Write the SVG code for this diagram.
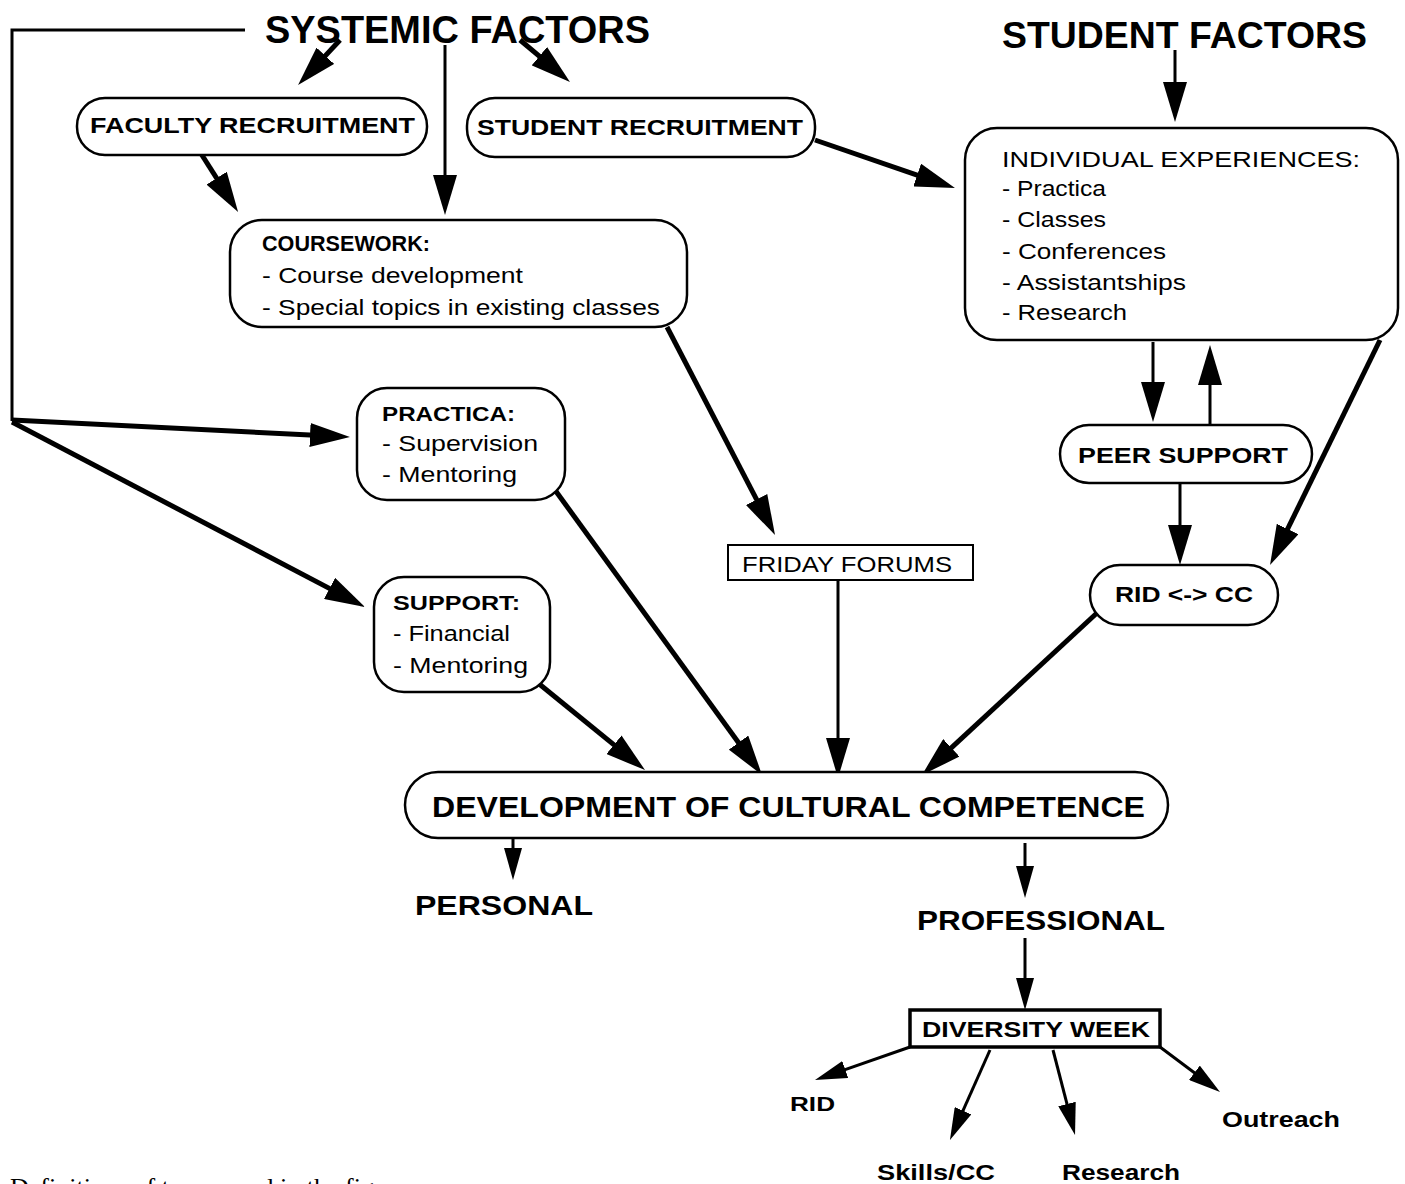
<svg xmlns="http://www.w3.org/2000/svg" width="1405" height="1184" viewBox="0 0 1405 1184">
<defs>
<style>
.bx{fill:#fff;stroke:#000;stroke-width:2.5}
.t{font-family:"Liberation Sans",Arial,sans-serif;fill:#000}
.b{font-weight:bold}
.ln{fill:none;stroke:#000;stroke-width:3}
.tk{fill:none;stroke:#000;stroke-width:5}
.a{marker-end:url(#ah)}
.s{marker-end:url(#sh)}
</style>
<marker id="ah" markerUnits="userSpaceOnUse" markerWidth="42" markerHeight="24" refX="10" refY="12" orient="auto"><path d="M0,0 L40,12 L0,24 z" fill="#000"/></marker>
<marker id="sh" markerUnits="userSpaceOnUse" markerWidth="34" markerHeight="18" refX="10" refY="9" orient="auto"><path d="M0,0 L32,9 L0,18 z" fill="#000"/></marker>
</defs>
<rect width="1405" height="1184" fill="#fff"/>
<g id="connectors">
<path class="ln" d="M245,30 H12 V421"/>
<path class="tk a" d="M340,40 L318.5,63.1"/>
<path class="ln a" d="M445,45 L445,185"/>
<path class="tk a" d="M520,40 L547,62.7"/>
<path class="tk a" d="M200,152 L222,186.6"/>
<path class="tk a" d="M815,140 L926.6,178.3"/>
<path class="ln a" d="M1175,50 L1175,92"/>
<path class="tk a" d="M667,327 L761.2,508.4"/>
<path class="ln a" d="M1153,342 L1153,392"/>
<path class="ln a" d="M1210,425 L1210,375"/>
<path class="ln a" d="M1180,483 L1180,535"/>
<path class="tk a" d="M1380,340 L1283.2,538"/>
<path class="ln a" d="M838,580 L838,748"/>
<path class="tk a" d="M12,420 L320,435.5"/>
<path class="tk a" d="M12,422 L338.4,593.1"/>
<path class="tk a" d="M555,490 L744.4,750.7"/>
<path class="tk a" d="M538,683 L621.7,751.1"/>
<path class="tk a" d="M1098,612 L944,754.6"/>
<path class="ln s" d="M513,838 L513,858"/>
<path class="ln s" d="M1025,843 L1025,876"/>
<path class="ln s" d="M1025,938 L1025,988"/>
<path class="ln s" d="M910,1047 L835.8,1072.8"/>
<path class="ln s" d="M990,1050 L958.9,1119.9"/>
<path class="ln s" d="M1053,1050 L1069.5,1113.7"/>
<path class="ln s" d="M1160,1047 L1202.4,1078.8"/>
</g>
<g id="systemic-factors"><text class="t b" x="265" y="43" font-size="38" textLength="385" lengthAdjust="spacingAndGlyphs">SYSTEMIC FACTORS</text></g>
<g id="student-factors"><text class="t b" x="1002" y="48" font-size="37" textLength="365" lengthAdjust="spacingAndGlyphs">STUDENT FACTORS</text></g>
<g id="faculty-recruitment"><rect class="bx" x="77" y="98" width="350" height="57" rx="28"/><text class="t b" x="90" y="133" font-size="22" textLength="325" lengthAdjust="spacingAndGlyphs">FACULTY RECRUITMENT</text></g>
<g id="student-recruitment"><rect class="bx" x="467" y="98" width="348" height="59" rx="28"/><text class="t b" x="477" y="135" font-size="22" textLength="326" lengthAdjust="spacingAndGlyphs">STUDENT RECRUITMENT</text></g>
<g id="coursework"><rect class="bx" x="230" y="220" width="457" height="107" rx="32"/>
<text class="t b" x="262" y="251" font-size="22" textLength="168" lengthAdjust="spacingAndGlyphs">COURSEWORK:</text>
<text class="t" x="262" y="283" font-size="22" textLength="261" lengthAdjust="spacingAndGlyphs">- Course development</text>
<text class="t" x="262" y="315" font-size="22" textLength="398" lengthAdjust="spacingAndGlyphs">- Special topics in existing classes</text></g>
<g id="individual-experiences"><rect class="bx" x="965" y="128" width="433" height="212" rx="32"/>
<text class="t" x="1002" y="167" font-size="22" textLength="358" lengthAdjust="spacingAndGlyphs">INDIVIDUAL EXPERIENCES:</text>
<text class="t" x="1002" y="196" font-size="22" textLength="104" lengthAdjust="spacingAndGlyphs">- Practica</text>
<text class="t" x="1002" y="227" font-size="22" textLength="104" lengthAdjust="spacingAndGlyphs">- Classes</text>
<text class="t" x="1002" y="259" font-size="22" textLength="164" lengthAdjust="spacingAndGlyphs">- Conferences</text>
<text class="t" x="1002" y="290" font-size="22" textLength="184" lengthAdjust="spacingAndGlyphs">- Assistantships</text>
<text class="t" x="1002" y="320" font-size="22" textLength="125" lengthAdjust="spacingAndGlyphs">- Research</text></g>
<g id="practica"><rect class="bx" x="357" y="388" width="208" height="112" rx="30"/>
<text class="t b" x="382" y="421" font-size="21" textLength="133" lengthAdjust="spacingAndGlyphs">PRACTICA:</text>
<text class="t" x="382" y="451" font-size="22" textLength="156" lengthAdjust="spacingAndGlyphs">- Supervision</text>
<text class="t" x="382" y="482" font-size="22" textLength="135" lengthAdjust="spacingAndGlyphs">- Mentoring</text></g>
<g id="support"><rect class="bx" x="374" y="577" width="176" height="115" rx="30"/>
<text class="t b" x="393" y="610" font-size="21" textLength="127" lengthAdjust="spacingAndGlyphs">SUPPORT:</text>
<text class="t" x="393" y="641" font-size="22" textLength="117" lengthAdjust="spacingAndGlyphs">- Financial</text>
<text class="t" x="393" y="673" font-size="22" textLength="135" lengthAdjust="spacingAndGlyphs">- Mentoring</text></g>
<g id="friday-forums"><rect x="728" y="545" width="245" height="35" fill="#fff" stroke="#000" stroke-width="2"/><text class="t" x="742" y="572" font-size="22" textLength="210" lengthAdjust="spacingAndGlyphs">FRIDAY FORUMS</text></g>
<g id="peer-support"><rect class="bx" x="1060" y="425" width="252" height="58" rx="29"/><text class="t b" x="1078" y="463" font-size="22" textLength="210" lengthAdjust="spacingAndGlyphs">PEER SUPPORT</text></g>
<g id="rid-cc"><rect class="bx" x="1090" y="565" width="188" height="60" rx="30"/><text class="t b" x="1115" y="602" font-size="22" textLength="138" lengthAdjust="spacingAndGlyphs">RID &lt;-&gt; CC</text></g>
<g id="development"><rect class="bx" x="405" y="772" width="763" height="66" rx="33"/><text class="t b" x="432" y="817" font-size="29" textLength="713" lengthAdjust="spacingAndGlyphs">DEVELOPMENT OF CULTURAL COMPETENCE</text></g>
<g id="personal"><text class="t b" x="415" y="915" font-size="28" textLength="178" lengthAdjust="spacingAndGlyphs">PERSONAL</text></g>
<g id="professional"><text class="t b" x="917" y="930" font-size="28" textLength="248" lengthAdjust="spacingAndGlyphs">PROFESSIONAL</text></g>
<g id="diversity-week"><rect x="910" y="1010" width="250" height="37" fill="#fff" stroke="#000" stroke-width="3.5"/><text class="t b" x="922" y="1037" font-size="22" textLength="228" lengthAdjust="spacingAndGlyphs">DIVERSITY WEEK</text></g>
<g id="rid"><text class="t b" x="790" y="1111" font-size="21" textLength="45" lengthAdjust="spacingAndGlyphs">RID</text></g>
<g id="skills-cc"><text class="t b" x="877" y="1180" font-size="22" textLength="118" lengthAdjust="spacingAndGlyphs">Skills/CC</text></g>
<g id="research"><text class="t b" x="1062" y="1180" font-size="22" textLength="118" lengthAdjust="spacingAndGlyphs">Research</text></g>
<g id="outreach"><text class="t b" x="1222" y="1127" font-size="22" textLength="118" lengthAdjust="spacingAndGlyphs">Outreach</text></g>
<text x="10" y="1196" font-family="'Liberation Serif','Times New Roman',serif" font-size="26" fill="#000">Definitions of terms used in the figure</text>
</svg>
